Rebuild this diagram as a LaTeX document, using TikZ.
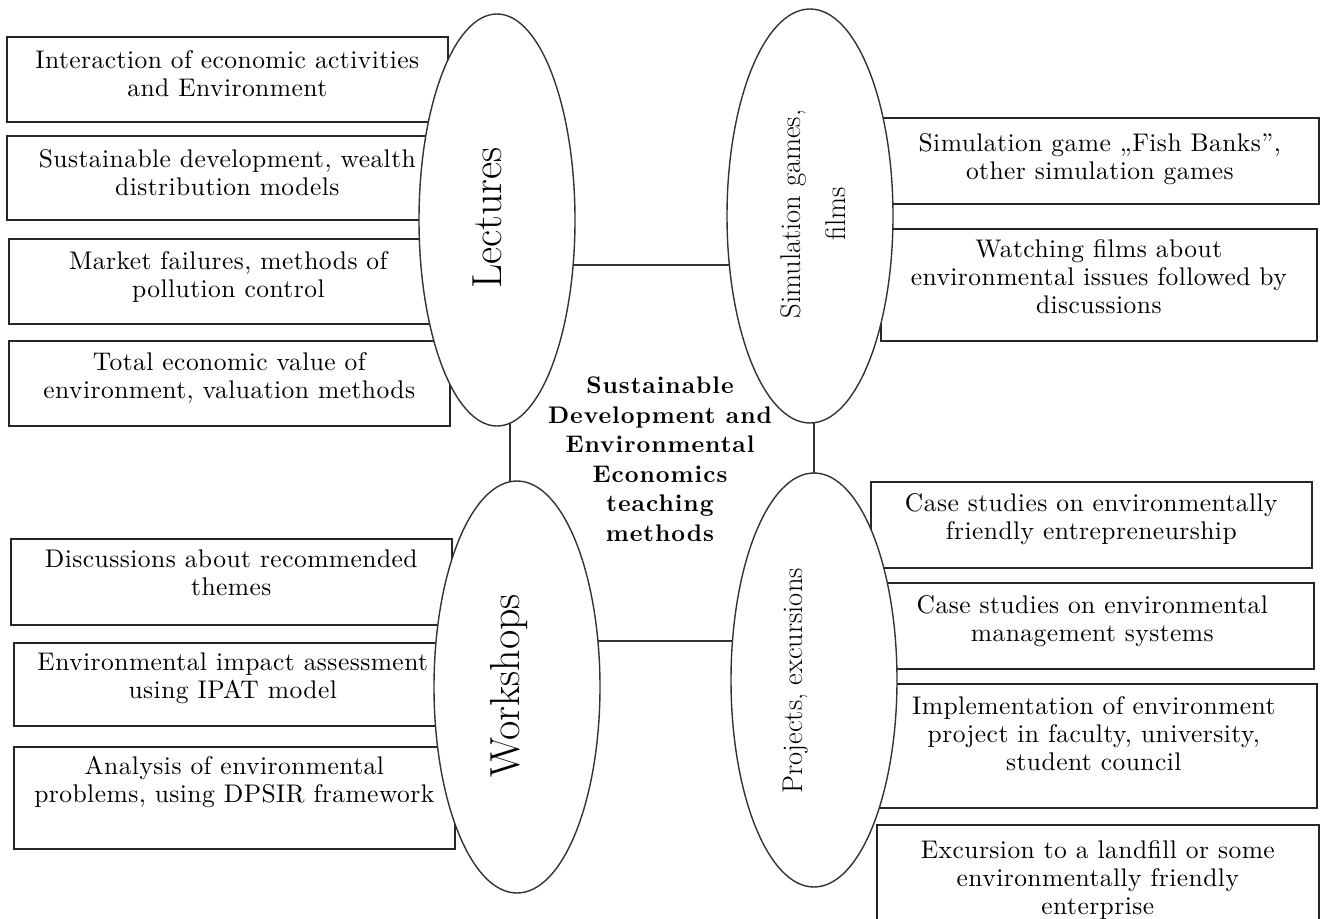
\documentclass[tikz,border=0pt]{standalone}
\usepackage{fontspec}
\usetikzlibrary{shapes.geometric}

% loosely tracked roman faces for the box texts and the title
\newfontfamily\spacedroman{lmroman10-regular.otf}[LetterSpace=1.8]
\newfontfamily\spacedbold{lmroman10-bold.otf}[LetterSpace=4]

\tikzset{
  itembox/.style={draw=black!85, line width=1.6pt, rectangle, inner sep=0pt, anchor=north west},
  itemtext/.style={align=center, inner sep=0pt, anchor=north, font=\spacedroman\fontsize{25.5}{28}\selectfont},
  methodoval/.style={draw=black!80, line width=1.4pt, ellipse, fill=white, inner sep=0pt},
  bigtag/.style={rotate=90, inner sep=0pt, font=\fontsize{42}{48}\selectfont},
  smalltag/.style={rotate=90, inner sep=0pt, align=center, font=\fontsize{28.5}{45}\selectfont},
  centretitle/.style={align=center, inner sep=0pt, font=\spacedbold\fontsize{24}{29.5}\selectfont},
  link/.style={draw=black!80, line width=1.6pt},
}

\begin{document}
\begin{tikzpicture}[x=1pt, y=-1pt]
\useasboundingbox (0,0) rectangle (1322,918);

% ---- boxes of the Lectures group
\node[itembox, minimum width=441pt, minimum height=85pt] (l1) at (6,36) {};
\node[itembox, minimum width=441pt, minimum height=84pt] (l2) at (6,135) {};
\node[itembox, minimum width=439pt, minimum height=85pt] (l3) at (8,238) {};
\node[itembox, minimum width=441pt, minimum height=85pt] (l4) at (8,340) {};

% ---- boxes of the Workshops group
\node[itembox, minimum width=441pt, minimum height=86pt] (w1) at (10,538) {};
\node[itembox, minimum width=438pt, minimum height=83pt] (w2) at (13,642) {};
\node[itembox, minimum width=441pt, minimum height=102pt] (w3) at (13,746) {};

% ---- boxes of the Simulation group
\node[itembox, minimum width=438pt, minimum height=86pt] (s1) at (880,117) {};
\node[itembox, minimum width=436pt, minimum height=112pt] (s2) at (880,228) {};

% ---- boxes of the Projects group
\node[itembox, minimum width=441pt, minimum height=86pt] (p1) at (870,481) {};
\node[itembox, minimum width=443pt, minimum height=86pt] (p2) at (870,582) {};
\node[itembox, minimum width=446pt, minimum height=124pt] (p3) at (870,683) {};
\node[itembox, minimum width=442pt, minimum height=120pt] (p4) at (876,824) {};

% ---- box texts
\node[itemtext] (l1t) at ([yshift=-14pt]l1.north) {Interaction of economic activities\\and Environment};
\node[itemtext] (l2t) at ([yshift=-14pt]l2.north) {Sustainable development, wealth\\distribution models};
\node[itemtext] (l3t) at ([yshift=-13pt]l3.north) {Market failures, methods of\\pollution control};
\node[itemtext] (l4t) at ([yshift=-12pt]l4.north) {Total economic value of\\environment, valuation methods};

\node[itemtext] (w1t) at ([yshift=-12pt]w1.north) {Discussions about recommended\\themes};
\node[itemtext] (w2t) at ([yshift=-11pt]w2.north) {Environmental impact assessment\\using IPAT model};
\node[itemtext] (w3t) at ([yshift=-10pt]w3.north) {Analysis of environmental\\problems, using DPSIR framework};

\node[itemtext] (s1t) at ([yshift=-16pt]s1.north) {Simulation game „Fish Banks”,\\other simulation games};
\node[itemtext] (s2t) at ([yshift=-11pt]s2.north) {Watching films about\\environmental issues followed by\\discussions};

\node[itemtext] (p1t) at ([yshift=-12pt]p1.north) {Case studies on environmentally\\friendly entrepreneurship};
\node[itemtext] (p2t) at ([yshift=-13pt]p2.north) {Case studies on environmental\\management systems};
\node[itemtext] (p3t) at ([yshift=-13pt]p3.north) {Implementation of environment\\project in faculty, university,\\student council};
\node[itemtext] (p4t) at ([yshift=-16pt]p4.north) {Excursion to a landfill or some\\environmentally friendly\\enterprise};

% ---- the four method ellipses
\node[methodoval, minimum width=156pt, minimum height=412pt] (lect) at (497,220) {};
\node[methodoval, minimum width=166pt, minimum height=414pt] (sim)  at (810,216) {};
\node[methodoval, minimum width=166pt, minimum height=412pt] (work) at (517,687) {};
\node[methodoval, minimum width=166pt, minimum height=414pt] (proj) at (814,680) {};

% ---- method names
\node[bigtag] (lectlabel) at (487,218) {Lectures};
\node[bigtag] (worklabel) at (509,686) {Workshops};
\node[smalltag] (simlabel) at (813,214) {Simulation games,\\films};
\node[smalltag] (projlabel) at (796,681) {Projects, excursions};

% ---- connectors between the methods, ending on the ellipse outlines
\draw[link] ([shift={(76.12,45)}]lect.center) -- ([shift={(-80.64,49)}]sim.center);
\draw[link] ([shift={(13,203.1)}]lect.center) -- ([shift={(-7,-205.3)}]work.center);
\draw[link] ([shift={(4,206.8)}]sim.center) -- ([shift={(0,-207)}]proj.center);
\draw[link] ([shift={(80.9,-46)}]work.center) -- ([shift={(-81.51,-39)}]proj.center);

% ---- central title
\node[centretitle] (title) at (660,459) {Sustainable\\Development and\\Environmental\\Economics\\teaching\\methods};
\end{tikzpicture}
\end{document}
